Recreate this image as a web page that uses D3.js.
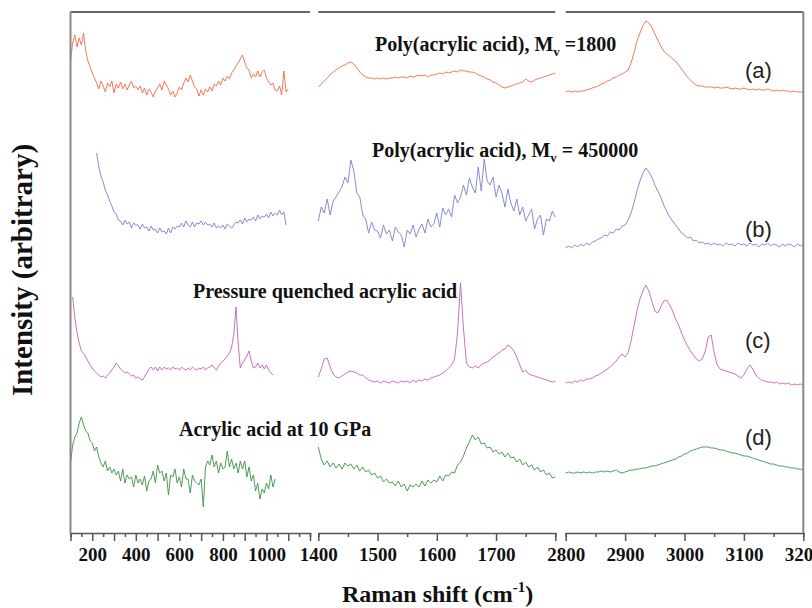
<!DOCTYPE html>
<html>
<head>
<meta charset="utf-8">
<script src="https://cdn.jsdelivr.net/npm/d3@7/dist/d3.min.js"></script>
<style>
  body { margin: 0; background: #fff; }
</style>
</head>
<body>
<script>
// Raman spectra, intensity in arbitrary units (offset per trace as in the figure)
// low range: 100-1100 cm-1, step 10
var specA_low = [472,490,498,486,495,488,500,482,472,466,460,455,450,444,452,447,441,450,446,452,440,449,445,451,444,449,443,448,452,445,447,443,447,440,445,438,444,441,436,442,445,449,443,452,448,444,438,442,436,440,446,443,450,455,451,458,452,446,444,437,443,438,444,441,446,442,449,447,452,448,455,452,457,454,460,463,467,470,474,478,471,465,463,455,459,456,462,456,461,463,455,451,448,450,443,442,447,438,462,441,444];
var specB_low = [380,366,357,351,343,338,332,327,321,319,313,312,308,313,309,311,305,310,308,308,304,309,305,306,302,307,303,304,300,305,301,302,299,305,300,306,304,307,306,310,306,312,308,306,311,306,310,309,312,308,311,308,309,306,310,305,307,305,308,304,309,307,305,308,311,310,313,309,315,311,314,313,316,312,318,314,317,316,319,315,321,317,320,318,323,318,321,308];
var specC_low = [236,215,200,190,182,180,176,172,168,165,162,160,158,156,157,155,158,160,163,166,170,167,164,162,160,161,159,157,158,155,156,154,153,156,160,164,166,163,166,162,166,163,166,164,165,163,166,164,165,163,166,164,163,165,163,166,164,163,165,164,166,163,165,166,168,165,163,167,170,172,174,177,180,186,198,226,190,165,170,173,177,182,172,165,166,170,165,168,164,168,163,160,158];
var specD_low = [70,88,96,100,110,116,108,102,100,92,90,82,86,76,70,66,72,62,66,60,64,58,62,52,64,50,58,54,56,46,58,50,54,48,57,42,52,54,62,50,68,60,62,52,60,38,58,56,64,50,56,46,64,54,54,40,58,52,50,48,54,26,66,72,68,78,66,72,60,70,64,66,82,66,74,64,70,60,72,64,72,56,66,52,58,42,50,34,44,40,50,44,58,46,54];
var lowStart = { a: 100, b: 220, c: 110, d: 100 };
var lowStep = 10;

// mid range: 1400-1800 cm-1, step 5
var specA_mid = [446,449,452,455,458,461,463,465,467,468,470,471,469,465,461,458,456,455,455,454,455,454,455,454,455,455,456,455,456,456,455,457,456,457,458,457,458,456,458,458,459,460,459,461,460,461,462,461,463,462,462,461,461,460,458,457,456,454,453,451,450,448,446,445,446,447,448,449,450,451,454,452,451,453,454,455,456,457,458,459,460];
var specB_mid = [312,326,320,334,318,332,336,341,346,356,350,373,362,340,336,318,314,300,311,303,302,295,308,299,303,292,306,301,298,286,303,299,308,296,304,309,300,314,306,309,320,306,325,318,324,316,338,330,336,348,338,355,346,340,366,342,374,352,348,356,336,348,340,326,344,330,322,334,318,326,312,318,324,304,314,318,298,314,312,322,316];
var specC_mid = [156,164,174,175,166,159,156,155,157,159,161,162,161,160,158,158,155,153,152,151,152,150,152,151,150,152,151,150,152,151,152,150,153,151,153,152,154,153,155,156,157,158,160,162,165,168,174,200,250,205,170,166,165,167,165,168,170,171,173,176,178,180,183,184,188,186,182,176,168,161,163,159,158,157,156,155,154,153,152,151,152];
var specD_mid = [86,74,68,72,66,70,65,69,64,70,67,69,64,68,62,66,61,63,58,60,55,57,51,54,50,51,47,52,46,49,42,48,46,49,46,52,47,53,50,53,51,57,52,58,57,61,60,68,71,77,85,91,98,93,96,89,90,85,86,81,83,79,81,76,80,75,76,71,74,68,71,66,68,63,66,61,63,58,60,55,56];
var midStart = 1400, midStep = 5;

// high range: 2800-3200 cm-1, step 5
var specA_high = [441,442,441,442,441,442,442,443,444,445,446,447,449,450,452,453,455,456,458,459,461,463,470,480,492,500,507,512,510,506,499,493,487,482,479,477,474,472,468,464,460,456,453,450,448,447,447,446,446,446,445,446,445,445,446,445,444,445,444,444,445,444,443,444,443,444,443,443,444,443,442,443,442,443,442,442,441,442,441,441,441];
var specB_high = [285,287,285,288,286,289,287,290,288,291,292,294,295,298,297,301,300,304,303,307,308,313,320,330,342,352,360,365,361,356,348,342,336,328,322,316,312,308,304,300,298,295,296,292,293,290,291,289,290,288,290,288,289,287,290,288,289,287,290,288,289,287,290,288,289,286,289,288,290,287,289,288,286,289,287,289,288,286,289,287,288];
var specC_high = [150,151,150,152,151,153,152,154,154,155,157,158,160,162,164,166,169,172,176,179,176,180,192,207,222,234,242,248,242,232,222,220,226,232,233,228,222,214,208,200,193,187,182,178,174,172,174,182,196,198,180,168,164,163,162,161,160,159,157,155,158,164,168,164,158,155,153,152,151,151,150,151,149,150,149,150,148,149,148,149,148];
var specD_high = [60,61,60,60,61,60,61,60,61,60,61,61,62,61,62,61,62,63,61,60,61,62,63,63,64,64,65,65,66,67,67,68,69,70,71,72,73,74,76,77,79,80,82,83,84,85,86,86,86,85,85,84,83,83,82,81,80,80,79,78,77,77,76,75,74,73,72,71,70,69,69,68,67,67,66,66,65,65,64,64,63];
var highStart = 2800, highStep = 5;

var traceNames = ["a", "b", "c", "d"];
var traceLabels = ["(a)", "(b)", "(c)", "(d)"];
var sampleNames = ["Poly(acrylic acid), M", "Poly(acrylic acid), M", "Pressure quenched acrylic acid", "Acrylic acid at 10 GPa"];
var sampleSuffix = [" =1800", " = 450000", "", ""];
var colors = { a: "#f26a48", b: "#7a80cf", c: "#c462b6", d: "#3a9246" };

var lowTicks = [200, 400, 600, 800, 1000];
var midTicks = [1400, 1500, 1600, 1700];
var highTicks = [2800, 2900, 3000, 3100, 3200];

var W = 812, H = 608;
var svg = d3.select("body").append("svg")
  .attr("width", W).attr("height", H)
  .style("font-family", "'Liberation Serif', 'Times New Roman', serif");

var y = d3.scaleLinear().domain([0, 521]).range([533, 12]);

var panels = [
  { x: d3.scaleLinear().domain([100, 1200]).range([70.5, 310]), labels: lowTicks,
    series: { a: specA_low, b: specB_low, c: specC_low, d: specD_low }, start: lowStart, step: lowStep },
  { x: d3.scaleLinear().domain([1400, 1800]).range([318.3, 555.3]), labels: midTicks,
    series: { a: specA_mid, b: specB_mid, c: specC_mid, d: specD_mid }, start: midStart, step: midStep },
  { x: d3.scaleLinear().domain([2800, 3200]).range([565.7, 803.3]), labels: highTicks,
    series: { a: specA_high, b: specB_high, c: specC_high, d: specD_high }, start: highStart, step: highStep }
];

var axisColor = "#555";

panels.forEach(function (p) {
  var dom = p.x.domain();
  var allTicks = d3.range(dom[0], dom[1] + 1, 50);

  // bottom axis
  var ax = svg.append("g")
    .attr("transform", "translate(0," + y.range()[0] + ")")
    .call(d3.axisBottom(p.x)
      .tickValues(allTicks)
      .tickSizeOuter(0)
      .tickSize(4)
      .tickFormat(function (d) { return p.labels.indexOf(d) >= 0 ? d : ""; }));
  ax.select(".domain").attr("stroke", axisColor).attr("stroke-width", 1.5);
  ax.selectAll(".tick line")
    .attr("stroke", axisColor).attr("stroke-width", 1.5)
    .attr("y2", function (d) { return d % 100 === 0 ? 8 : 4; });
  ax.selectAll(".tick text")
    .attr("y", 28).attr("dy", 0)
    .attr("fill", "#111")
    .style("font-size", "19px").style("font-weight", "bold")
    .style("font-family", "'Liberation Serif', serif");

  // top frame line
  svg.append("line")
    .attr("x1", p.x.range()[0]).attr("x2", p.x.range()[1])
    .attr("y1", y.range()[1]).attr("y2", y.range()[1])
    .attr("stroke", "#333").attr("stroke-width", 1.5);

  // traces
  traceNames.forEach(function (t) {
    var vals = p.series[t];
    var st = typeof p.start === "object" ? p.start[t] : p.start;
    var pts = vals.map(function (v, i) { return [st + i * p.step, v]; });
    svg.append("path")
      .datum(pts)
      .attr("fill", "none")
      .attr("stroke", colors[t])
      .attr("stroke-width", 1)
      .attr("stroke-opacity", 0.9)
      .attr("d", d3.line().x(function (d) { return p.x(d[0]); }).y(function (d) { return y(d[1]); }));
  });
});

// left and right frame lines
svg.append("line")
  .attr("x1", panels[0].x.range()[0]).attr("x2", panels[0].x.range()[0])
  .attr("y1", y.range()[1]).attr("y2", y.range()[0])
  .attr("stroke", "#888").attr("stroke-width", 2);
svg.append("line")
  .attr("x1", panels[2].x.range()[1]).attr("x2", panels[2].x.range()[1])
  .attr("y1", y.range()[1]).attr("y2", y.range()[0])
  .attr("stroke", "#888").attr("stroke-width", 2);

// sample annotations
var annPos = [[375, 51], [372, 157], [193, 298], [179, 436]];
sampleNames.forEach(function (name, i) {
  var t = svg.append("text")
    .attr("x", annPos[i][0]).attr("y", annPos[i][1])
    .style("font-size", "20px").style("font-weight", "bold")
    .attr("fill", "#111")
    .text(name);
  if (sampleSuffix[i]) {
    t.append("tspan").attr("dy", 5).style("font-size", "13px").text("v");
    t.append("tspan").attr("dy", -5).text(sampleSuffix[i]);
  }
});

// trace letters
var letterY = [78, 237, 348, 445];
traceLabels.forEach(function (l, i) {
  svg.append("text")
    .attr("x", 745).attr("y", letterY[i])
    .style("font-family", "'Liberation Sans', Arial, sans-serif")
    .style("font-size", "22px")
    .attr("fill", "#222")
    .text(l);
});

// axis titles
var xt = svg.append("text")
  .attr("x", 342).attr("y", 602)
  .style("font-size", "24px").style("font-weight", "bold")
  .attr("fill", "#111")
  .text("Raman shift (cm");
xt.append("tspan").attr("dy", -10).style("font-size", "15px").text("-1");
xt.append("tspan").attr("dy", 10).text(")");

svg.append("text")
  .attr("transform", "translate(32,270) rotate(-90)")
  .attr("text-anchor", "middle")
  .style("font-size", "29px").style("font-weight", "bold")
  .attr("fill", "#111")
  .text("Intensity (arbitrary)");
</script>
</body>
</html>
